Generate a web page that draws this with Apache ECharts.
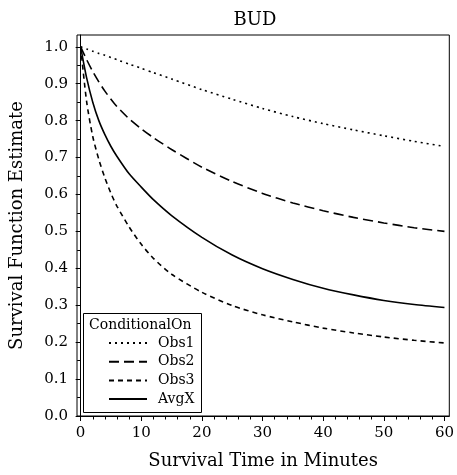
<!DOCTYPE html>
<html>
<head>
<meta charset="utf-8">
<script src="https://cdn.jsdelivr.net/npm/echarts@6/dist/echarts.min.js"></script>
<style>
  html, body { margin: 0; padding: 0; background: #fff; }
  #chart { width: 457px; height: 475px; }
</style>
</head>
<body>
<div id="chart"></div>
<script>
// survival time (minutes)
const times = [0, 1, 2, 3, 4, 5, 6, 8, 10, 12, 15, 20, 25, 30, 35, 40, 45, 50, 55, 60];
// survival estimates
const obs1 = [1.000, 0.994, 0.988, 0.982, 0.977, 0.971, 0.965, 0.953, 0.942, 0.930, 0.913, 0.884, 0.858, 0.833, 0.811, 0.792, 0.775, 0.759, 0.744, 0.730];
const obs2 = [1.000, 0.965, 0.933, 0.905, 0.880, 0.858, 0.838, 0.805, 0.778, 0.754, 0.722, 0.674, 0.635, 0.603, 0.577, 0.556, 0.538, 0.523, 0.510, 0.500];
const obs3 = [1.000, 0.850, 0.757, 0.695, 0.645, 0.603, 0.568, 0.512, 0.465, 0.427, 0.384, 0.335, 0.299, 0.274, 0.255, 0.238, 0.225, 0.214, 0.205, 0.198];
const avgX = [1.000, 0.915, 0.850, 0.800, 0.762, 0.730, 0.703, 0.656, 0.620, 0.586, 0.543, 0.484, 0.436, 0.399, 0.370, 0.346, 0.328, 0.313, 0.302, 0.294];

const xTicks = [0, 10, 20, 30, 40, 50, 60];
const xMinor = [2, 4, 6, 8, 12, 14, 16, 18, 22, 24, 26, 28, 32, 34, 36, 38, 42, 44, 46, 48, 52, 54, 56, 58];
const yTicks = [0, 0.1, 0.2, 0.3, 0.4, 0.5, 0.6, 0.7, 0.8, 0.9, 1.0];
const yMinor = [0.05, 0.15, 0.25, 0.35, 0.45, 0.55, 0.65, 0.75, 0.85, 0.95];

const FONT = 'DejaVu Serif';
const black = '#000';

function pairs(vals) {
    return times.map(function (t, i) { return [t, vals[i]]; });
}

let chart = echarts.init(document.getElementById('chart'));

let lineSeries = function (name, vals, type) {
    return {
        name: name,
        type: 'line',
        xAxisIndex: 0,
        yAxisIndex: 0,
        data: pairs(vals),
        smooth: 0.25,
        symbol: 'none',
        lineStyle: { color: black, width: 1.6, type: type },
        itemStyle: { color: black, opacity: 0 },   // hides the legend dot
        z: 3
    };
};

let option = {
    backgroundColor: '#fff',
    animation: false,
    textStyle: { fontFamily: FONT, color: black },
    title: {
        text: 'BUD',
        left: 250,
        top: 6,
        textAlign: 'center',
        textStyle: { fontFamily: FONT, fontSize: 18, fontWeight: 'normal', color: black }
    },
    grid: {
        left: 77, right: 5, top: 35, bottom: 58,
        show: true, borderColor: black, borderWidth: 1, backgroundColor: 'transparent'
    },
    xAxis: [
        {
            type: 'value', min: -0.6, max: 60.8,
            name: 'Survival Time in Minutes',
            nameLocation: 'middle', nameGap: 36,
            nameTextStyle: { fontFamily: FONT, fontSize: 18, color: black },
            axisLine: { show: true, lineStyle: { color: black, width: 1 } },
            axisTick: { show: true, customValues: xTicks, length: 5, lineStyle: { color: black } },
            axisLabel: { customValues: xTicks, margin: 10, fontFamily: FONT, fontSize: 15, color: black },
            splitLine: { show: false }
        },
        {
            type: 'value', min: -0.6, max: 60.8, position: 'bottom',
            axisLine: { show: false },
            axisTick: { show: true, customValues: xMinor, length: 3.5, lineStyle: { color: black } },
            axisLabel: { show: false },
            splitLine: { show: false }
        }
    ],
    yAxis: [
        {
            type: 'value', min: 0, max: 1.032,
            name: 'Survival Function Estimate',
            nameLocation: 'middle', nameGap: 51,
            nameTextStyle: { fontFamily: FONT, fontSize: 18, color: black },
            axisLine: { show: true, lineStyle: { color: black, width: 1 } },
            axisTick: { show: true, customValues: yTicks, length: 5, lineStyle: { color: black } },
            axisLabel: {
                customValues: yTicks, margin: 9, fontFamily: FONT, fontSize: 15, color: black,
                formatter: function (v) { return v.toFixed(1); }
            },
            splitLine: { show: false }
        },
        {
            type: 'value', min: 0, max: 1.032, position: 'left',
            axisLine: { show: false },
            axisTick: { show: true, customValues: yMinor, length: 3.5, lineStyle: { color: black } },
            axisLabel: { show: false },
            splitLine: { show: false }
        }
    ],
    graphic: [
        {
            type: 'rect', z: 5,
            shape: { x: 83.5, y: 313.5, width: 118, height: 99 },
            style: { fill: '#fff', stroke: black, lineWidth: 1 }
        },
        {
            type: 'text', z: 6, x: 89, y: 325,
            style: { text: 'ConditionalOn', font: '14px "DejaVu Serif"', fill: black, verticalAlign: 'middle' }
        }
    ],
    legend: {
        orient: 'vertical',
        left: 83, top: 314,
        padding: [22, 4, 4, 25],
        itemWidth: 38, itemHeight: 14, itemGap: 4.7,
        z: 7,
        textStyle: { fontFamily: FONT, fontSize: 14, color: black, padding: [0, 0, 0, 6] },
        data: ['Obs1', 'Obs2', 'Obs3', 'AvgX']
    },
    series: [
        lineSeries('Obs1', obs1, [2, 4]),
        lineSeries('Obs2', obs2, [10, 5]),
        lineSeries('Obs3', obs3, [5, 4]),
        lineSeries('AvgX', avgX, 'solid')
    ]
};

chart.setOption(option);
</script>
</body>
</html>
